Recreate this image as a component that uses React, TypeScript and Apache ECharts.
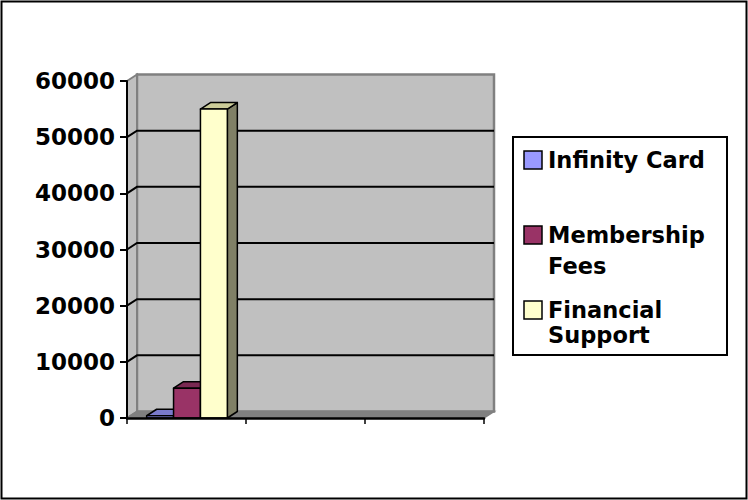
import React, { useEffect, useRef } from "react";
import * as echarts from "echarts";

const categories = ["1", "2", "3"];
const seriesNames = ["Infinity Card", "Membership Fees", "Financial Support"];
const legendLabels = ["Infinity Card", "Membership\nFees", "Financial\nSupport"];
const infinityCard = [400, null, null];
const membershipFees = [5300, null, null];
const financialSupport = [55000, null, null];
const yTicks = [0, 10000, 20000, 30000, 40000, 50000, 60000];

const frontColors = ["#9999ff", "#993366", "#ffffcc"];
const topColors = ["#7a7acc", "#7a2952", "#cccc99"];
const sideColors = ["#4d4d80", "#4d1a33", "#808066"];

const DX = 10;
const DY = -6.5;
const FONT = "DejaVu Sans";

export default function App() {
  const ref = useRef<HTMLDivElement>(null);

  useEffect(() => {
    if (!ref.current) return;
    const chart = echarts.init(ref.current, undefined, { renderer: "svg" });
    const allValues = [infinityCard, membershipFees, financialSupport];

    const barRender = (idx: number) => (params: any, api: any) => {
      const v = api.value(1);
      if (v == null || isNaN(v)) return null;
      const cat = api.value(0);
      const p0 = api.coord([cat, 0]);
      const p1 = api.coord([cat, v]);
      const band = api.size([1, 0])[0];
      const w = band * 0.226;
      const x0 = p0[0] + (idx - 1.5) * w + 0.5;
      const x1 = x0 + w;
      const yb = p0[1];
      const yt = p1[1];
      const stroke = { stroke: "#000", lineWidth: 1.5, lineJoin: "round" };
      return {
        type: "group",
        children: [
          {
            type: "polygon",
            shape: { points: [[x1, yt], [x1 + DX, yt + DY], [x1 + DX, yb + DY], [x1, yb]] },
            style: { fill: sideColors[idx], ...stroke },
          },
          {
            type: "polygon",
            shape: { points: [[x0, yt], [x0 + DX, yt + DY], [x1 + DX, yt + DY], [x1, yt]] },
            style: { fill: topColors[idx], ...stroke },
          },
          {
            type: "polygon",
            shape: { points: [[x0, yt], [x1, yt], [x1, yb], [x0, yb]] },
            style: { fill: frontColors[idx], ...stroke },
          },
        ],
      };
    };

    const wallRender = (params: any, api: any) => {
      const cs = params.coordSys;
      const gx = cs.x, gy = cs.y, gw = cs.width, gh = cs.height;
      const children: any[] = [
        {
          type: "rect",
          shape: { x: gx + DX, y: gy + DY, width: gw, height: gh },
          style: { fill: "#c0c0c0", stroke: "#808080", lineWidth: 2.5 },
        },
        {
          type: "polygon",
          shape: { points: [[gx, gy], [gx + DX, gy + DY], [gx + DX, gy + gh + DY], [gx, gy + gh]] },
          style: { fill: "#c0c0c0", stroke: "#808080", lineWidth: 2 },
        },
        {
          type: "polygon",
          shape: { points: [[gx, gy + gh], [gx + DX, gy + gh + DY], [gx + gw + DX, gy + gh + DY], [gx + gw, gy + gh]] },
          style: { fill: "#808080", stroke: "#808080", lineWidth: 1.5 },
        },
      ];
      yTicks.forEach((t) => {
        if (t <= yTicks[0] || t >= yTicks[yTicks.length - 1]) return;
        const y = api.coord([0, t])[1];
        children.push({
          type: "polyline",
          shape: { points: [[gx, y], [gx + DX, y + DY], [gx + gw + DX, y + DY]] },
          style: { fill: null, stroke: "#000", lineWidth: 2 },
        });
      });
      return { type: "group", children };
    };

    const legendChildren: any[] = [
      {
        type: "rect",
        shape: { x: 513, y: 137, width: 214, height: 218 },
        style: { fill: "#fff", stroke: "#000", lineWidth: 2 },
      },
    ];
    const iconCenters = [160, 235, 310];
    const lineHeights = [26, 31, 25];
    legendLabels.forEach((label, i) => {
      legendChildren.push({
        type: "rect",
        shape: { x: 524, y: iconCenters[i] - 9, width: 18, height: 18 },
        style: { fill: frontColors[i], stroke: "#000", lineWidth: 1.5 },
      });
      legendChildren.push({
        type: "text",
        x: 548,
        y: iconCenters[i] - lineHeights[i] / 2,
        style: {
          text: label,
          font: `bold 22.5px "${FONT}"`,
          fill: "#000",
          lineHeight: lineHeights[i],
          verticalAlign: "top",
          align: "left",
        },
      });
    });

    const option: any = {
      animation: false,
      backgroundColor: "#ffffff",
      grid: { left: 127, right: 264, top: 81, bottom: 82, containLabel: false },
      xAxis: {
        type: "category",
        data: categories,
        z: 5,
        axisLine: { show: true, lineStyle: { color: "#000", width: 2.5 } },
        axisTick: { show: true, length: 6, lineStyle: { color: "#000", width: 1.5 } },
        axisLabel: { show: false },
        splitLine: { show: false },
      },
      yAxis: {
        type: "value",
        min: 0,
        max: 60000,
        interval: 10000,
        z: 5,
        axisLine: { show: true, lineStyle: { color: "#000", width: 2 } },
        axisTick: { show: true, length: 7, lineStyle: { color: "#000", width: 2 } },
        axisLabel: {
          show: true,
          margin: 12,
          color: "#000",
          fontFamily: FONT,
          fontWeight: "bold",
          fontSize: 23,
          formatter: (v: number) => String(v),
        },
        splitLine: { show: false },
      },
      series: [
        {
          type: "custom",
          name: "walls",
          z: 1,
          silent: true,
          renderItem: wallRender,
          data: [[0, 0]],
          clip: false,
        },
        ...seriesNames.map((name, idx) => ({
          type: "custom",
          name,
          z: 3,
          renderItem: barRender(idx),
          clip: false,
          data: allValues[idx]
            .map((v, i) => (v == null ? null : [i, v]))
            .filter((d) => d != null),
        })),
      ],
      graphic: [
        {
          type: "rect",
          shape: { x: 1.5, y: 1.5, width: 745, height: 497 },
          style: { fill: null, stroke: "#000", lineWidth: 2 },
          z: 100,
        },
        { type: "group", children: legendChildren, z: 50 },
      ],
    };

    chart.setOption(option);
    return () => chart.dispose();
  }, []);

  return (
    <div
      ref={ref}
      style={{ position: "absolute", left: 0, top: 0, width: 748, height: 500 }}
    />
  );
}
